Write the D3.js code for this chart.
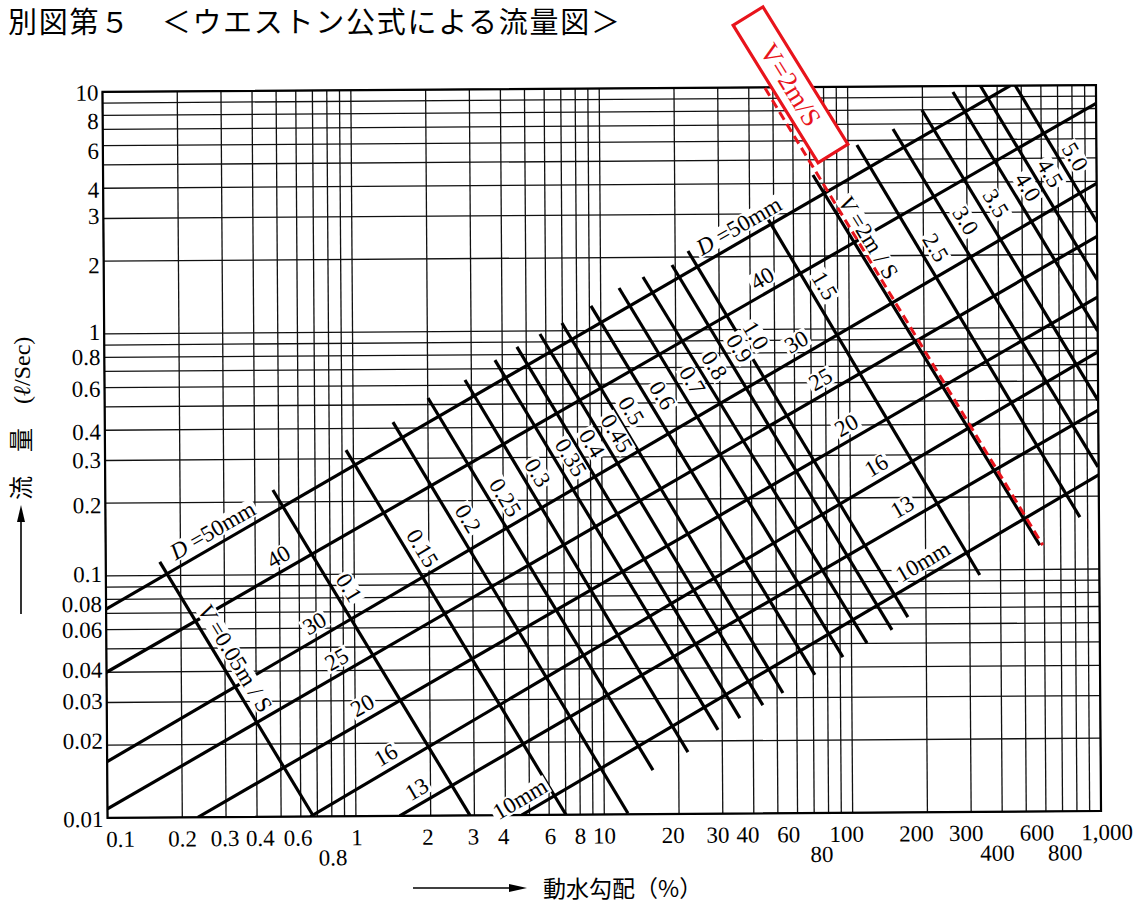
<!DOCTYPE html>
<html>
<head>
<meta charset="utf-8">
<script src="https://cdn.jsdelivr.net/npm/d3@7"></script>
<style>
html,body{margin:0;padding:0;background:#fff;}
svg{display:block;}
</style>
</head>
<body>
<svg id="chart" width="1144" height="912"></svg>
<script>
// ---------------- data ----------------
const xTickValues = [0.1,0.2,0.3,0.4,0.6,0.8,1,2,3,4,6,8,10,20,30,40,60,80,100,200,300,400,600,800,1000];
const xTickLabels = ["0.1","0.2","0.3","0.4","0.6","0.8","1","2","3","4","6","8","10","20","30","40","60","80","100","200","300","400","600","800","1,000"];
const xTickLowered = ["0.8","80","400","800"];
const yTickValues = [10,8,6,4,3,2,1,0.8,0.6,0.4,0.3,0.2,0.1,0.08,0.06,0.04,0.03,0.02,0.01];
const yTickLabels = ["10","8","6","4","3","2","1","0.8","0.6","0.4","0.3","0.2","0.1","0.08","0.06","0.04","0.03","0.02","0.01"];

// pipe diameter lines (mm): [gradient, flow] at both visible ends
const diameters = [50,40,30,25,20,16,13,10];
const dFrom = [[0.1,0.073],[0.1,0.040],[0.1,0.0171],[0.1,0.0109],[0.231,0.01],[0.656,0.01],[1.5,0.01],[4.65,0.01]];
const dTo   = [[452,10],[1000,8.4],[1000,3.92],[1000,2.37],[1000,1.33],[1000,0.79],[1000,0.454],[1000,0.245]];
const dLabelsLow  = ["D =50mm","40","30","25","20","16","13","10mm"];
const dLabelsHigh = ["D =50mm","40","30","25","20","16","13","10mm"];

// velocity lines (m/s)
const velocities = ["0.05","0.1","0.15","0.2","0.25","0.3","0.35","0.4","0.45","0.5","0.6","0.7","0.8","0.9","1.0","1.5","2","2.5","3.0","3.5","4.0","4.5","5.0"];
const vFrom = [[0.165,0.114],[0.473,0.224],[0.934,0.326],[1.446,0.424],[2.004,0.532],[2.827,0.630],[3.737,0.760],[4.585,0.860],[5.68,0.971],[6.97,1.077],[9.13,1.264],[11.86,1.497],[14.82,1.659],[19.4,1.856],[22.53,2.118],[44.85,3.145],[72.1,4.328],[108.6,5.741],[151.9,6.668],[198.9,7.975],[265.4,9.445],[341,10.08],[472,10.06]];
const vTo   = [[0.672,0.0101],[2.88,0.01],[7.01,0.01],[12.45,0.0101],[15.75,0.0152],[21.81,0.0180],[28.86,0.0222],[35.38,0.0248],[43.8,0.0280],[52.8,0.0314],[71.1,0.0372],[92.3,0.0440],[115.5,0.0502],[145.7,0.0568],[169,0.0641],[330,0.0952],[577,0.126],[838,0.164],[994,0.264],[998,0.499],[1000,0.963],[1000,1.564],[1000,2.717]];
const vLabels = ["V =0.05m / S","0.1","0.15","0.2","0.25","0.3","0.35","0.4","0.45","0.5","0.6","0.7","0.8","0.9","1.0","1.5","V =2m / S","2.5","3.0","3.5","4.0","4.5","5.0"];

// highlighted velocity (red dashed)
const highlightLabel = "V=2m/S";
const highlightFrom = [46.5, 9.93];
const highlightTo   = [593, 0.126];

// ---------------- layout ----------------
const SERIF = "'Liberation Serif','Times New Roman',serif";
const JP = "'Noto Sans CJK JP','Noto Sans CJK SC',sans-serif";
const RED = "#e8141c";
const dLabelTLow  = [0.126,0.181,0.217,0.239,0.191,0.105,0.035,0.01];
const dLabelTHigh = [0.708,0.670,0.704,0.728,0.729,0.728,0.730,0.708];
const vLabelT = [0.41,0.323,0.29,0.266,0.288,0.269,0.284,0.28,0.288,0.257,0.263,0.271,0.262,0.249,0.251,0.23,0.19,0.296,0.293,0.348,0.43,0.49,0.58];
const xLabelDx = [13,0,-1,3,-3,1,1,-3,-1,-2,1,0,0,-6,-5,-6,-9,-7,-6,-11,-5,-5,-9,-12,6];
const yLabelDy = [11.5,16.5,16,12.5,8.5,15,9,10.5,12,12.5,10.5,13,9,15.5,11,8.5,9.5,6.5,12];

const svg = d3.select("#chart");
svg.append("rect").attr("width",1144).attr("height",912).attr("fill","#fff");

// title
svg.append("text").attr("x",8).attr("y",33)
  .attr("font-family",JP).attr("font-size",29)
  .attr("textLength",612).attr("lengthAdjust","spacing")
  .text("別図第５　＜ウエストン公式による流量図＞");

const x = d3.scaleLog().domain([0.1,1000]).range([105,1098.5]);
const y = d3.scaleLog().domain([0.01,10]).range([814.5,88.5]);
const [x0,x1] = x.range(), [y0,y1] = y.range();

const g = svg.append("g").attr("transform","rotate(-0.4 600 452)");

// grid
const grid = g.append("g").attr("stroke","#111").attr("stroke-width",1.3);
grid.selectAll("line.vx").data(x.ticks()).join("line")
  .attr("x1",d=>x(d)).attr("x2",d=>x(d)).attr("y1",y1).attr("y2",y0);
grid.selectAll("line.hy").data(y.ticks()).join("line")
  .attr("y1",d=>y(d)).attr("y2",d=>y(d)).attr("x1",x0).attr("x2",x1);

// clip
g.append("clipPath").attr("id","plotclip").append("rect")
  .attr("x",x0).attr("y",y1).attr("width",x1-x0).attr("height",y0-y1);

const lineGen = d3.line().x(d=>x(d[0])).y(d=>y(d[1]));
const heavy = g.append("g").attr("clip-path","url(#plotclip)")
  .attr("fill","none").attr("stroke","#000").attr("stroke-width",3.2);
heavy.selectAll("path.d").data(diameters.map((d,i)=>[dFrom[i],dTo[i]])).join("path")
  .attr("d",lineGen);
heavy.selectAll("path.v").data(velocities.map((d,i)=>[vFrom[i],vTo[i]])).join("path")
  .attr("d",lineGen);

// frame
g.append("rect").attr("x",x0).attr("y",y1).attr("width",x1-x0).attr("height",y0-y1)
  .attr("fill","none").attr("stroke","#000").attr("stroke-width",2.2);

// labels on lines
const labelLayer = g.append("g");
function fillText(sel, text){
  if (text[0]==="D" || text[0]==="V"){
    sel.append("tspan").attr("font-style","italic").text(text[0]);
    sel.append("tspan").text(text.slice(1));
  } else sel.text(text);
}
function addLabel(a, b, t, text, fs, off){
  const p0=[x(a[0]),y(a[1])], p1=[x(b[0]),y(b[1])];
  const ang = Math.atan2(p1[1]-p0[1], p1[0]-p0[0])*180/Math.PI;
  const px = p0[0]+t*(p1[0]-p0[0]), py = p0[1]+t*(p1[1]-p0[1]);
  const lg = labelLayer.append("g").attr("transform",`translate(${px},${py}) rotate(${ang})`);
  const bg = lg.append("rect").attr("fill","#fff");
  const tx = lg.append("text").attr("y",-off).attr("text-anchor","middle")
    .attr("font-family",SERIF).attr("font-size",fs).attr("fill","#000");
  fillText(tx,text);
  const bb = tx.node().getBBox();
  bg.attr("x",bb.x-2).attr("y",bb.y+3).attr("width",bb.width+4).attr("height",(-off+2)-(bb.y+3));
}
diameters.forEach((d,i)=>{
  addLabel(dFrom[i],dTo[i],dLabelTLow[i],dLabelsLow[i],23,7);
  addLabel(dFrom[i],dTo[i],dLabelTHigh[i],dLabelsHigh[i],23,7);
});
velocities.forEach((v,i)=>{
  addLabel(vFrom[i],vTo[i],vLabelT[i],vLabels[i],23,7);
});

// highlighted dashed line
g.append("path").datum([highlightFrom,highlightTo]).attr("d",lineGen)
  .attr("fill","none").attr("stroke",RED).attr("stroke-width",3)
  .attr("stroke-dasharray","9,5");

// tick labels
const xl = g.append("g").attr("font-family",SERIF).attr("font-size",23).attr("text-anchor","middle");
xTickValues.forEach((v,i)=>{
  const low = xTickLowered.includes(xTickLabels[i]);
  xl.append("text").attr("x",x(v)+xLabelDx[i]).attr("y",y0+(low?49:29)).text(xTickLabels[i]);
});
const yl = g.append("g").attr("font-family",SERIF).attr("font-size",23).attr("text-anchor","end");
yTickValues.forEach((v,i)=>{
  yl.append("text").attr("x",x0-4).attr("y",y(v)+yLabelDy[i]-3).text(yTickLabels[i]);
});

// axis titles
const ax = svg.append("g");
ax.append("line").attr("x1",21).attr("y1",614).attr("x2",21).attr("y2",518).attr("stroke","#000").attr("stroke-width",1.6);
ax.append("path").attr("d","M21,505 L17,522 L25,522 Z").attr("fill","#000");
const yt = ax.append("text").attr("transform","translate(30,500) rotate(-90)").attr("font-size",24);
yt.append("tspan").attr("font-family",JP).text("流　量　");
yt.append("tspan").attr("font-family",SERIF).text("(");
yt.append("tspan").attr("font-family",SERIF).attr("font-style","italic").text("ℓ");
yt.append("tspan").attr("font-family",SERIF).text("/Sec)");

ax.append("line").attr("x1",413).attr("y1",888).attr("x2",512).attr("y2",888).attr("stroke","#000").attr("stroke-width",1.6);
ax.append("path").attr("d","M527,888 L509,884 L509,892 Z").attr("fill","#000");
ax.append("text").attr("x",543).attr("y",897).attr("font-family",JP).attr("font-size",23).text("動水勾配（%）");

// red callout box
const rb = svg.append("g").attr("transform","translate(790.5,84.8) rotate(58.3)");
rb.append("rect").attr("x",-80.8).attr("y",-17.5).attr("width",161.6).attr("height",35)
  .attr("fill","#fff").attr("stroke",RED).attr("stroke-width",3.2);
rb.append("text").attr("text-anchor","middle").attr("y",9).attr("fill",RED)
  .attr("font-family",SERIF).attr("font-size",27).text(highlightLabel);
</script>
</body>
</html>
